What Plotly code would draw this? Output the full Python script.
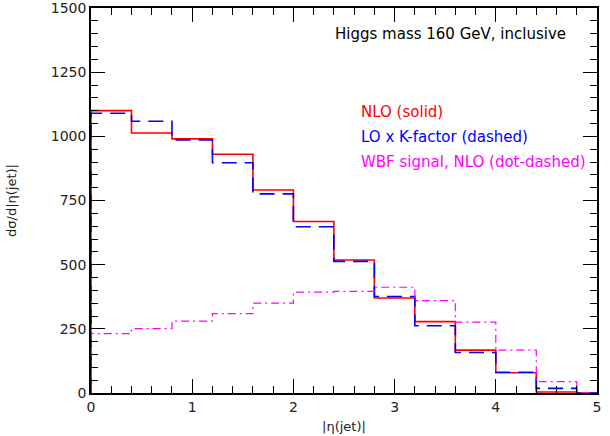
import plotly.graph_objects as go

# bin edges of |eta(jet)| histogram
bin_edges = [0.0, 0.4, 0.8, 1.2, 1.6, 2.0, 2.4, 2.8, 3.2, 3.6, 4.0, 4.4, 4.8, 5.0]
nlo = [1100, 1013, 990, 930, 791, 668, 518, 370, 278, 167, 79, 4, 0]
lo_k = [1090, 1059, 986, 897, 776, 648, 513, 376, 262, 158, 81, 18, 0]
wbf = [231, 251, 280, 309, 350, 393, 396, 412, 360, 276, 167, 44, 0]

title_text = "Higgs mass 160 GeV, inclusive"
legend_labels = ["NLO (solid)", "LO x K-factor (dashed)", "WBF signal, NLO (dot-dashed)"]
colors = ["#ff0000", "#0000ff", "#ff00ff"]


def steps(vals):
    xs = [bin_edges[0]]
    ys = [0]
    for i, v in enumerate(vals):
        xs += [bin_edges[i], bin_edges[i + 1]]
        ys += [v, v]
    xs.append(bin_edges[-1])
    ys.append(0)
    return xs, ys


fig = go.Figure()
styles = [("solid", 1.6), ("15px,8px", 1.6), ("8px,4px,2px,4px", 1.2)]
for vals, col, (dash, w) in zip([nlo, lo_k, wbf], colors, styles):
    xs, ys = steps(vals)
    fig.add_trace(go.Scatter(x=xs, y=ys, mode="lines",
                             line=dict(color=col, width=w, dash=dash),
                             showlegend=False, hoverinfo="skip", cliponaxis=False))

font = dict(family="DejaVu Sans", size=14, color="#222222")

W, H = 610, 436
ml, mr, mt, mb = 91, 13, 8, 43
pw, ph = W - ml - mr, H - mt - mb


def px(xp):
    return (xp - ml) / pw


def py(yp):
    return 1 - (yp - mt) / ph


fig.add_annotation(x=px(333), y=py(34), xref="paper", yref="paper", text=title_text,
                   showarrow=False, xanchor="left", yanchor="middle",
                   font=dict(family="DejaVu Sans", size=15, color="#000000"))
for i, (lab, col) in enumerate(zip(legend_labels, colors)):
    fig.add_annotation(x=px(359), y=py(112 + 25 * i), xref="paper", yref="paper",
                       text=lab, showarrow=False, xanchor="left", yanchor="middle",
                       font=dict(family="DejaVu Sans", size=15, color=col))

axis_common = dict(showgrid=False, zeroline=False, showline=True, linecolor="#000000",
                   linewidth=1.5, mirror="allticks", ticks="inside", ticklen=14,
                   tickwidth=1.2, tickcolor="#000000", tickfont=font,
                   automargin=False, ticklabeloverflow="allow")

fig.update_xaxes(range=[0, 5], dtick=1, tick0=0,
                 minor=dict(dtick=0.2, ticks="inside", ticklen=7, tickcolor="#000000", tickwidth=1),
                 title=dict(text="|η(jet)|", font=dict(family="DejaVu Sans", size=13, color="#222222"),
                            standoff=8),
                 **axis_common)
fig.update_yaxes(range=[0, 1500], dtick=250, tick0=0,
                 minor=dict(dtick=50, ticks="inside", ticklen=7, tickcolor="#000000", tickwidth=1),
                 title=dict(text="dσ/d|η(jet)|", font=dict(family="DejaVu Sans", size=13, color="#222222"),
                            standoff=31),
                 **axis_common)

fig.update_layout(width=W, height=H, margin=dict(l=ml, r=mr, t=mt, b=mb),
                  plot_bgcolor="white", paper_bgcolor="white")

fig.write_html("out.html", config={"displayModeBar": False},
               post_script="document.body.style.margin='0';document.body.style.overflow='hidden';")
